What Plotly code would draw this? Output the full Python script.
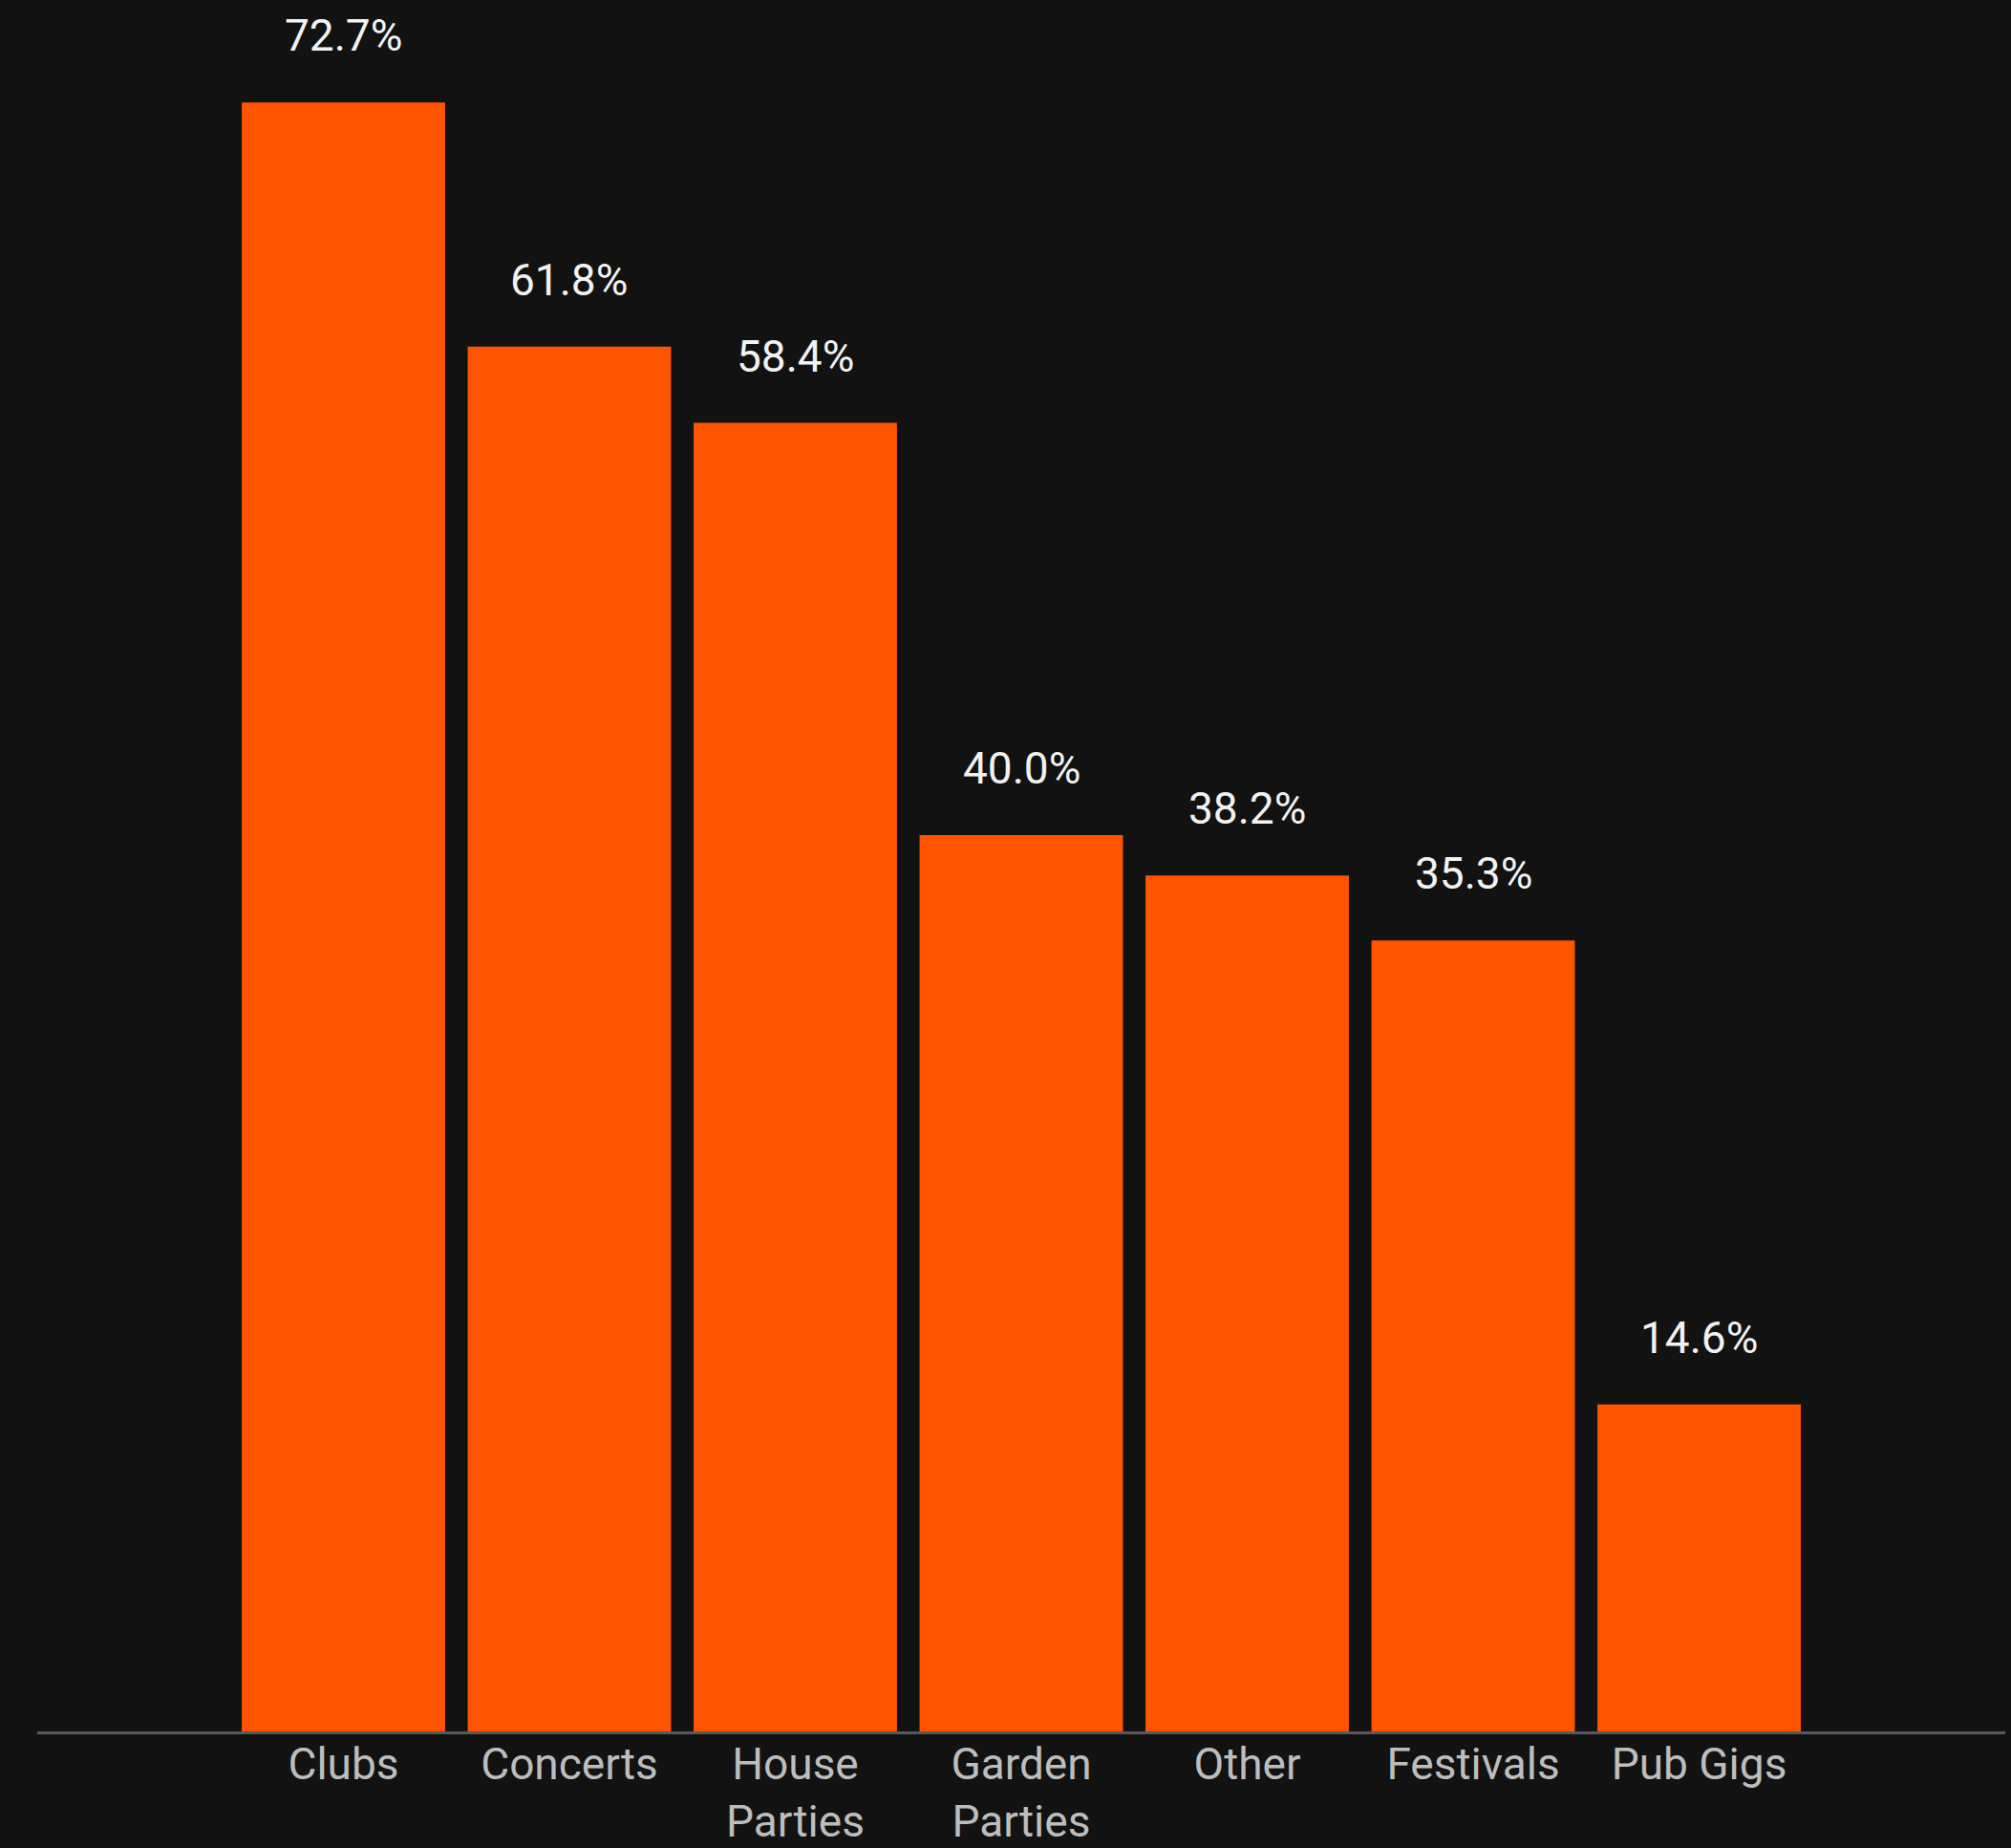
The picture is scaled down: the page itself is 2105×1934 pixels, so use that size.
import plotly.graph_objects as go

categories = ["Clubs", "Concerts", "House<br>Parties", "Garden<br>Parties", "Other", "Festivals", "Pub Gigs"]
values = [72.7, 61.8, 58.4, 40.0, 38.2, 35.3, 14.6]
value_labels = ["72.7%", "61.8%", "58.4%", "40.0%", "38.2%", "35.3%", "14.6%"]

BG = "#121212"
BAR = "#FF5500"

fig = go.Figure()
fig.add_trace(go.Bar(
    x=list(range(len(categories))),
    y=values,
    marker=dict(color=BAR, line=dict(width=0)),
    hoverinfo="skip",
))

for i, (v, t) in enumerate(zip(values, value_labels)):
    fig.add_annotation(
        x=i, y=v, text=t, showarrow=False,
        xanchor="center", yanchor="bottom", yshift=41,
        font=dict(family="Roboto", size=46, color="#f2f2f2"),
    )

fig.update_layout(
    width=2105, height=1934,
    paper_bgcolor=BG, plot_bgcolor=BG,
    margin=dict(l=39, r=6, t=0, b=122, autoexpand=False),
    bargap=0.1,
    showlegend=False,
    xaxis=dict(
        range=[-1.355, 7.355],
        automargin=False,
        tickmode="array",
        tickvals=list(range(len(categories))),
        ticktext=categories,
        showgrid=False, zeroline=False,
        showline=True, linecolor="#595959", linewidth=3,
        ticks="", ticklen=0,
        ticklabelstandoff=-8,
        tickfont=dict(family="Roboto", size=46, color="#bdbdbd"),
    ),
    yaxis=dict(
        range=[0, 77.27],
        visible=False,
        automargin=False,
        showgrid=False, zeroline=False,
    ),
)

fig.write_html(
    "out.html",
    config={"displayModeBar": False},
    post_script="document.body.style.margin='0';document.body.style.background='#121212';document.body.style.overflow='hidden';",
)
